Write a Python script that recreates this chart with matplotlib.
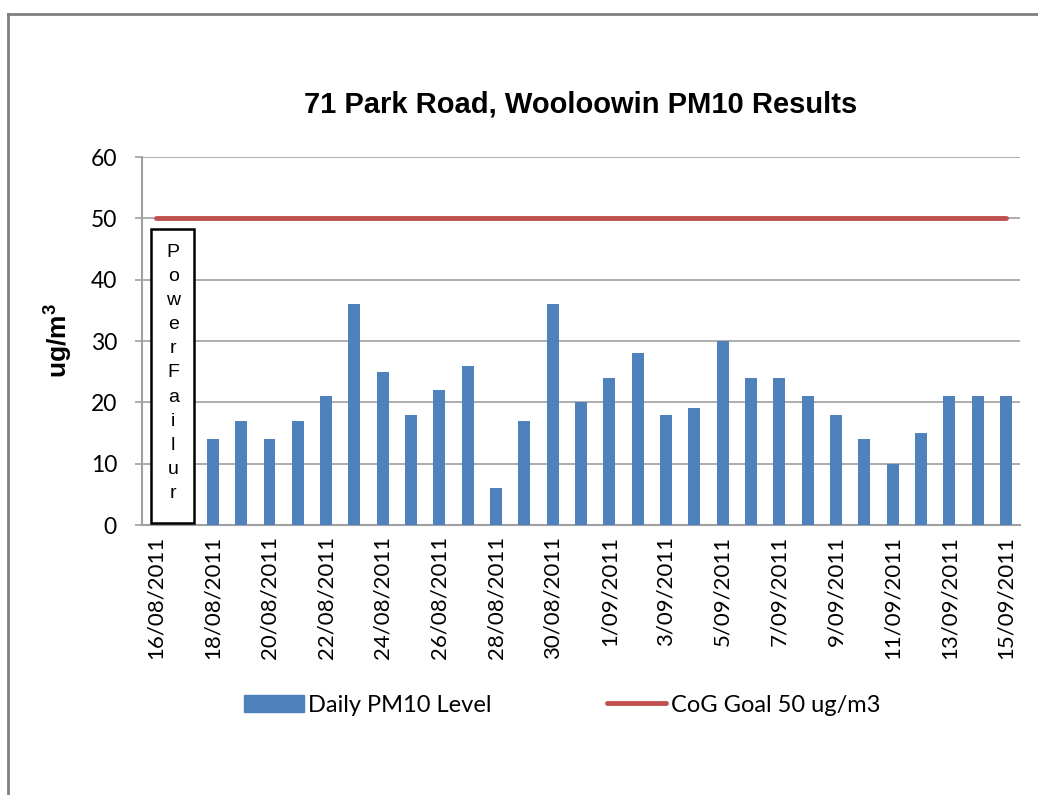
import numpy as np
import matplotlib.pyplot as plt
from matplotlib.patches import Rectangle
from matplotlib.lines import Line2D

# dates 16/08/2011 .. 15/09/2011, first two days lost to power failure
dates = ['%d/08/2011' % d for d in range(16, 32)] + ['%d/09/2011' % d for d in range(1, 16)]
pm10 = [np.nan, np.nan,
        14, 17, 14, 17, 21, 36, 25, 18, 22, 26, 6, 17, 36, 20,
        24, 28, 18, 19, 30, 24, 24, 21, 18, 14, 10, 15, 21, 21, 21]
goal = [50] * len(dates)

blue = '#4f81bd'
red = '#c0504d'
grey = '#a0a0a0'
tick_font = ['Lato', 'DejaVu Sans']

fig = plt.figure(figsize=(10.38, 7.95), dpi=100)
ax = fig.add_axes([0.1368, 0.3396, 0.8459, 0.4629])

x = np.arange(len(dates))
ax.bar(x, pm10, width=0.42, color=blue, zorder=3, label='Daily PM10 Level')
ax.plot(x, goal, color=red, lw=3.5, solid_capstyle='round', zorder=4, label='CoG Goal 50 ug/m3')

ax.set_xlim(-0.5, len(dates) - 0.5)
ax.set_ylim(0, 60)
ax.set_yticks(range(0, 61, 10))
ax.yaxis.grid(True, color=grey, lw=1.2, zorder=0)
ax.set_xticks(x[::2])
ax.set_xticklabels(dates[::2], rotation=90, fontsize=16, family=tick_font)
ax.tick_params(axis='x', length=0, pad=8)
ax.tick_params(axis='y', length=5, color=grey, width=1.2, labelsize=16.5, pad=13)
for lab in ax.get_yticklabels():
    lab.set_family(tick_font)
for s in ['top', 'right']:
    ax.spines[s].set_visible(False)
for s in ['left', 'bottom']:
    ax.spines[s].set_color(grey)
    ax.spines[s].set_linewidth(1.5)

ax.set_ylabel('ug/m$^\\mathregular{3}$', fontsize=19, fontweight='bold',
              family='Liberation Sans', labelpad=12)
ax.set_title('71 Park Road, Wooloowin PM10 Results', fontsize=21, fontweight='bold',
             family='Liberation Sans', pad=32)

# power failure note box
ax.add_patch(Rectangle((-0.18, 0.3), 1.52, 48.0, facecolor='white', edgecolor='black',
                       lw=1.8, zorder=5))
ax.text(0.6, 24.8, '\n'.join('PowerFailur'), ha='center', va='center', fontsize=14,
        family='Liberation Sans', linespacing=1.55, zorder=6)

handles = [Rectangle((0, 0), 1, 1, color=blue),
           Line2D([0], [0], color=red, lw=3.5, solid_capstyle='round')]
fig.legend(handles, ['Daily PM10 Level', 'CoG Goal 50 ug/m3'], loc='center',
           bbox_to_anchor=(0.542, 0.113), ncol=2, frameon=False, prop={'family': tick_font, 'size': 17},
           handlelength=2.5, handletextpad=0.2, columnspacing=4.9)

# outer chart frame
fig.add_artist(Line2D([8 / 1038, 8 / 1038], [0, 1 - 14 / 795], transform=fig.transFigure, color='#808080', lw=2))
fig.add_artist(Line2D([8 / 1038, 1], [1 - 14 / 795, 1 - 14 / 795], transform=fig.transFigure, color='#808080', lw=2))

fig.savefig('out.png', dpi=100)
